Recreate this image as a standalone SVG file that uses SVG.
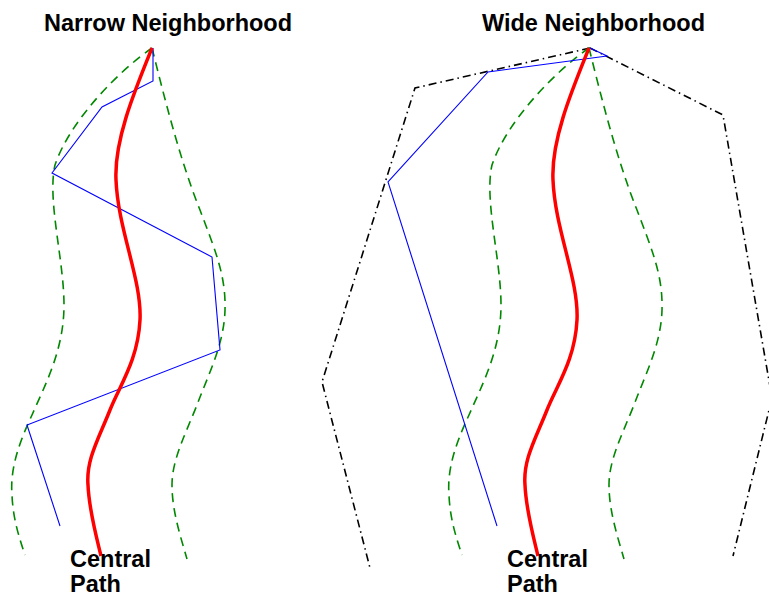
<svg xmlns="http://www.w3.org/2000/svg" width="769" height="596" viewBox="0 0 769 596">
<style>
.title{font-family:"Liberation Sans",Arial,sans-serif;font-weight:bold;font-size:23.5px;fill:#000}
.central{stroke:#ff0000;stroke-width:3.5;fill:none;stroke-linecap:butt}
.bound{stroke:#008800;stroke-width:1.6;fill:none;stroke-dasharray:9,6}
.iter{stroke:#0000ff;stroke-width:1.1;fill:none;stroke-linejoin:miter}
.wide{stroke:#000;stroke-width:1.6;fill:none;stroke-dasharray:8,4,1.5,4}
</style>
<defs>
<path id="redPath" d="M152,48 C135,90 114,140 116,180 C118,230 142,280 140,320 C138,360 120,385 110,410 C98,440 86,460 88,485 C89,510 96,535 101,556"/>
<path id="greenL" d="M152,48 C120,70 70,120 55,165 C47,200 64,260 64,305 C64,350 45,385 32,415 C18,445 10,470 12,495 C13,520 20,540 25,555"/>
<path id="greenR" d="M152,48 C165,100 180,160 200,210 C215,250 226,275 225,310 C224,345 208,375 197,405 C185,435 172,460 172,485 C172,510 180,535 187,559"/>
</defs>
<g id="narrow">
<text class="title" x="44" y="31">Narrow Neighborhood</text>
<use href="#greenL" class="bound"/>
<use href="#greenR" class="bound"/>
<polyline class="iter" points="153,48 153,81 102,107 52,173 212,257 220,350 27,425 60,526"/>
<use href="#redPath" class="central"/>
<text class="title" x="70" y="567">Central</text>
<text class="title" x="70" y="592">Path</text>
</g>
<g id="wide">
<text class="title" x="482" y="31">Wide Neighborhood</text>
<polyline class="wide" points="590,48 415,88 322,382 370,568"/>
<polyline class="wide" points="590,48 723,115 772,398 733,556"/>
<g transform="translate(437,0)">
<use href="#greenL" class="bound"/>
<use href="#greenR" class="bound"/>
</g>
<polyline class="iter" points="590,48 607,56 488,72 388,182 497,526"/>
<g transform="translate(437,0)">
<use href="#redPath" class="central"/>
</g>
<text class="title" x="507" y="567">Central</text>
<text class="title" x="507" y="592">Path</text>
</g>
</svg>
